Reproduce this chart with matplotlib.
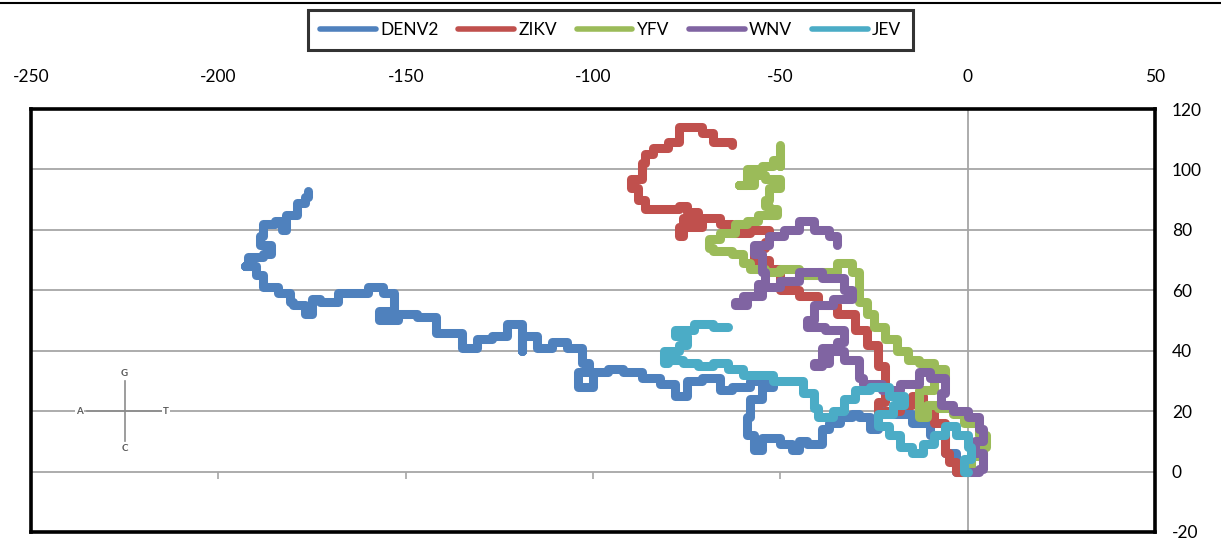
import matplotlib
matplotlib.use("Agg")
import matplotlib.pyplot as plt
from matplotlib.lines import Line2D

plt.rcParams['font.family'] = ['Lato', 'DejaVu Sans']
plt.rcParams['axes.unicode_minus'] = False

# DNA walk coordinates, from the origin to the end of each genome
denv2_x = [0, -3, -6, -10, -15, -20, -24, -24, -26, -29, -31, -34, -37, -39, -43, -45, -47, -50, -52, -55,
           -57, -59, -58, -55, -52, -55, -58, -63, -66, -71, -75, -78, -82, -87, -92, -96, -100, -103, -104,
           -101, -103, -107, -111, -115, -119, -119, -123, -127, -131, -135, -140, -142, -147, -152, -157,
           -153, -156, -160, -165, -168, -173, -175, -177, -180, -181, -184, -187, -188, -190, -193, -192,
           -188, -186, -189, -188, -185, -183, -182, -182, -179, -179, -177, -176]
denv2_y = [0, 6, 12, 16, 19, 20, 17, 14, 18, 19, 18, 16, 14, 9, 10, 7, 9, 11, 11, 7,
           12, 18, 24, 28, 29, 30, 28, 27, 31, 30, 25, 29, 31, 33, 34, 33, 28, 28, 33,
           36, 41, 43, 41, 45, 40, 49, 45, 44, 41, 46, 46, 51, 52, 50, 53,
           59, 61, 59, 59, 56, 57, 52, 55, 56, 59, 61, 61, 65, 68, 68, 71,
           72, 75, 78, 82, 83, 80, 83, 85, 86, 89, 91, 93]

zikv_x = [0, -3, -5, -6, -6, -9, -12, -15, -18, -22, -24, -22, -22, -24, -27, -30, -35, -40, -45, -50,
          -53, -57, -54, -53, -58, -63, -66, -71, -77, -76, -72, -75, -77, -82, -86, -88, -90, -87, -86,
          -84, -80, -77, -76, -72, -71, -68, -63]
zikv_y = [0, 3, 6, 12, 16, 22, 25, 22, 20, 19, 23, 28, 35, 42, 47, 52, 55, 58, 60, 67,
          70, 74, 76, 80, 79, 82, 84, 81, 78, 84, 86, 88, 87, 87, 90, 94, 97, 102, 105,
          107, 109, 114, 114, 114, 112, 109, 108]

yfv_x = [0, 1, 4, 5, 3, -1, -4, -8, -11, -13, -13, -9, -6, -9, -13, -16, -19, -22, -25, -27, -29,
         -29, -31, -35, -40, -45, -50, -54, -58, -60, -63, -68, -69, -66, -62, -59, -56, -53, -51, -53,
         -54, -53, -50, -54, -57, -61, -59, -59, -55, -52, -50, -50, -50]
yfv_y = [0, 5, 8, 12, 16, 19, 21, 22, 18, 22, 27, 31, 34, 36, 37, 40, 44, 48, 52, 56, 60,
         66, 69, 66, 65, 67, 66, 67, 69, 72, 73, 74, 77, 79, 82, 83, 85, 85, 87, 88,
         90, 94, 97, 98, 95, 95, 97, 100, 101, 103, 101, 105, 108]

wnv_x = [0, 3, 4, 2, 4, 3, 0, -4, -7, -6, -10, -13, -18, -23, -28, -29, -33, -37, -41, -39, -35,
         -33, -38, -43, -41, -36, -31, -33, -39, -45, -50, -55, -60, -62, -59, -56, -54, -55, -57,
         -53, -49, -45, -41, -37, -35]
wnv_y = [0, 1, 6, 10, 14, 18, 20, 22, 26, 31, 33, 29, 27, 29, 31, 37, 40, 36, 35, 41, 43,
         47, 48, 50, 55, 57, 60, 64, 66, 63, 61, 58, 56, 55, 58, 62, 66, 72, 75,
         78, 80, 83, 80, 78, 75]

jev_x = [0, -1, 1, 0, -3, -6, -9, -12, -15, -18, -21, -24, -20, -17, -21, -26, -30, -33, -36, -40,
         -41, -44, -48, -52, -56, -60, -64, -68, -72, -76, -80, -81, -77, -75, -78, -73, -68, -64]
jev_y = [0, 4, 8, 12, 15, 12, 9, 6, 8, 12, 15, 19, 22, 25, 28, 27, 24, 20, 18, 21,
         26, 30, 30, 32, 32, 34, 36, 35, 36, 37, 36, 40, 42, 45, 47, 49, 48, 48]

series = [
    ("DENV2", denv2_x, denv2_y, "#4F81BD"),
    ("ZIKV", zikv_x, zikv_y, "#C0504D"),
    ("YFV", yfv_x, yfv_y, "#9BBB59"),
    ("WNV", wnv_x, wnv_y, "#8064A2"),
    ("JEV", jev_x, jev_y, "#4BACC6"),
]

fig = plt.figure(figsize=(12.21, 5.44), dpi=100)
ax = fig.add_axes([0.0254, 0.0221, 0.9206, 0.7775])

grid_col = "#A6A6A6"
for gy in [20, 40, 60, 80, 100]:
    ax.axhline(gy, color=grid_col, lw=1.3, zorder=1)
ax.axhline(0, color=grid_col, lw=1.3, zorder=1)
ax.axvline(0, color=grid_col, lw=1.3, zorder=1)
# small tick marks on the inner axes
ax.plot([-200, -150, -100, -50], [0] * 4, ls="none", marker=3, ms=5, mew=1.2, color=grid_col, zorder=1)

for name, xs, ys, col in series:
    ax.plot(xs, ys, color=col, lw=6.5, label=name, drawstyle="steps-post",
            solid_joinstyle="round", solid_capstyle="round", zorder=3)

# nucleotide direction key
kx, ky = -225, 20
ax.plot([kx - 10, kx + 10], [ky, ky], color="#8C8C8C", lw=1.2, zorder=4)
ax.plot([kx, kx], [ky - 10, ky + 10], color="#8C8C8C", lw=1.2, zorder=4)
key_font = dict(fontsize=7, color="#595959", ha="center", va="center", fontweight="bold", zorder=5,
                bbox=dict(facecolor="white", edgecolor="none", pad=0.6))
ax.text(kx - 12, ky, "A", **key_font)
ax.text(kx + 11, ky, "T", **key_font)
ax.text(kx, ky + 12.5, "G", **key_font)
ax.text(kx, ky - 12.5, "C", **key_font)

ax.set_xlim(-250, 50)
ax.set_ylim(-20, 120)
ax.set_xticks(range(-250, 51, 50))
ax.set_yticks(range(-20, 121, 20))
ax.xaxis.tick_top()
ax.yaxis.tick_right()
ax.tick_params(axis="x", length=0, pad=17, labelsize=12.5)
ax.tick_params(axis="y", length=0, pad=12, labelsize=12.5)
for sp in ax.spines.values():
    sp.set_linewidth(2.6)
    sp.set_color("black")

leg = fig.legend(loc="center", bbox_to_anchor=(0.5, 0.9445), ncol=5, frameon=True, fancybox=False,
                 fontsize=12.5, handlelength=3.2, handletextpad=0.25, columnspacing=1.15,
                 borderpad=0.7, edgecolor="black")
leg.get_frame().set_linewidth(2.2)
for h in leg.get_lines():
    h.set_linewidth(4)
    h.set_drawstyle("default")

fig.add_artist(Line2D([0, 1], [1 - 3 / 544, 1 - 3 / 544], color="black", lw=1.5, transform=fig.transFigure))

fig.savefig("out.png", dpi=100)
